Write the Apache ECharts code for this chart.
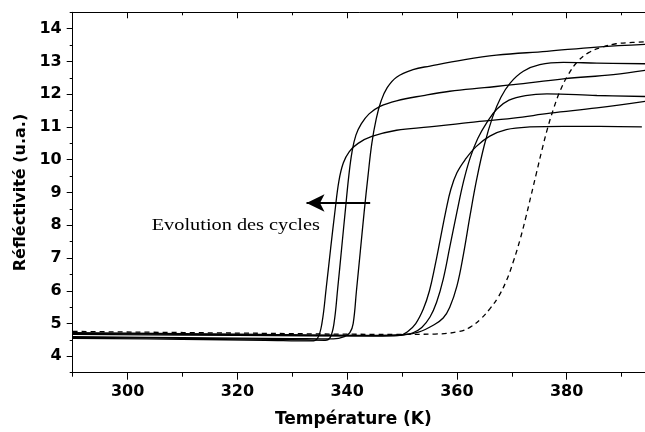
<!DOCTYPE html>
<html>
<head>
<meta charset="utf-8">
<script src="https://cdn.jsdelivr.net/npm/echarts@6/dist/echarts.min.js"></script>
<style>html,body{margin:0;padding:0;background:#fff}#c{width:645px;height:432px}</style>
</head>
<body>
<div id="c"></div>
<script>
// ---- data ----
const xMajorTicks = [300, 320, 340, 360, 380];
const xMinorTicks = [290, 310, 330, 350, 370, 390];
const yMajorTicks = [4, 5, 6, 7, 8, 9, 10, 11, 12, 13, 14];
const yMinorTicks = [3.5, 4.5, 5.5, 6.5, 7.5, 8.5, 9.5, 10.5, 11.5, 12.5, 13.5, 14.5];

const cycleA = [[290,4.55],[310,4.52],[325,4.49],[333.5,4.47],[334.6,4.55],[335.4,5.0],[336.2,6.1],[337.0,7.3],[337.8,8.45],[338.5,9.35],[339.3,9.9],[340.4,10.25],[342.0,10.5],[344.5,10.71],[349.0,10.90],[355.0,11.00],[361.2,11.12],[370.3,11.27],[377.0,11.42],[385.5,11.58],[394.3,11.78]];
const cycleB = [[290,4.58],[310,4.55],[330,4.51],[336.0,4.49],[336.9,4.57],[337.6,5.0],[338.3,6.1],[339.0,7.3],[339.7,8.5],[340.3,9.5],[340.9,10.25],[341.6,10.75],[342.6,11.1],[344.0,11.4],[346.0,11.63],[349.0,11.80],[353.9,11.96],[358.7,12.09],[365.0,12.2],[370.3,12.29],[379.4,12.47],[388.5,12.60],[394.3,12.73]];
const cycleC = [[290,4.60],[310,4.57],[330,4.54],[337.5,4.53],[339.5,4.6],[340.5,4.72],[341.1,5.0],[341.7,6.0],[342.4,7.2],[343.1,8.4],[343.8,9.5],[344.5,10.5],[345.3,11.25],[346.2,11.8],[347.3,12.2],[349.0,12.52],[352.0,12.75],[355.1,12.86],[361.2,13.05],[367.2,13.19],[376.4,13.31],[385.5,13.44],[394.3,13.52]];
const cycleD = [[290,4.70],[320,4.66],[345,4.63],[349.5,4.64],[351.0,4.75],[352.5,5.0],[353.9,5.45],[355.0,6.0],[356.0,6.75],[357.0,7.6],[358.0,8.45],[358.9,9.1],[360.0,9.6],[361.5,10.0],[363.5,10.4],[366.0,10.72],[369.0,10.92],[373.3,11.00],[379.4,11.02],[386.0,11.02],[393.7,11.00]];
const cycleE = [[290,4.67],[320,4.64],[345,4.62],[350.2,4.65],[352.0,4.72],[353.6,4.88],[355.1,5.2],[356.3,5.65],[357.5,6.35],[358.7,7.33],[360.0,8.4],[361.2,9.33],[362.4,10.05],[363.8,10.65],[365.5,11.15],[367.3,11.55],[369.5,11.82],[372.5,11.96],[376.4,12.01],[385.5,11.96],[394.3,11.93]];
const cycleF = [[290,4.72],[320,4.68],[345,4.64],[350.2,4.66],[353.0,4.74],[355.7,4.95],[357.5,5.17],[358.7,5.50],[360.0,6.14],[361.2,7.12],[362.4,8.30],[363.6,9.40],[365.0,10.45],[366.5,11.30],[368.0,11.90],[369.7,12.34],[372.1,12.70],[375.1,12.90],[379.4,12.97],[385.5,12.95],[394.3,12.93]];
const firstCycle = [[290,4.76],[320,4.71],[350,4.67],[356,4.68],[360.5,4.76],[362.5,4.90],[364.4,5.15],[366.0,5.45],[367.5,5.8],[369.0,6.3],[370.3,6.9],[371.5,7.56],[372.5,8.2],[373.5,8.9],[374.5,9.6],[375.5,10.3],[376.5,10.95],[377.5,11.5],[378.8,12.1],[380.3,12.6],[382.0,13.0],[384.0,13.27],[386.4,13.43],[389.0,13.54],[392.0,13.58],[394.3,13.60]];

const arrowFrom = [344.2, 8.68];
const arrowTo = [332.6, 8.68];
const annotation = 'Evolution des cycles';

// ---- chart ----
const sans = 'DejaVu Sans';
const black = '#000';
const solidCurves = [cycleA, cycleB, cycleC, cycleD, cycleE, cycleF];

const series = solidCurves.map((d) => ({
  type: 'line', data: d, showSymbol: false, smooth: 0.4,
  lineStyle: { color: black, width: 1.3 }, silent: true, animation: false, z: 3
}));
series.push({
  type: 'line', data: firstCycle, showSymbol: false, smooth: 0.4,
  lineStyle: { color: black, width: 1.3, type: [5, 4] }, silent: true, animation: false, z: 3
});
series.push({
  type: 'line', data: [], silent: true, animation: false,
  markLine: {
    silent: true, animation: false, symbol: ['none', 'arrow'], symbolSize: [13, 18],
    label: { show: false },
    lineStyle: { color: black, width: 2, type: 'solid' },
    data: [[{ coord: arrowFrom }, { coord: arrowTo }]]
  }
});

const xBase = { type: 'value', min: 290, max: 395, splitLine: { show: false } };
const yBase = { type: 'value', min: 3.5, max: 14.5, splitLine: { show: false } };

const option = {
  backgroundColor: '#fff',
  animation: false,
  grid: { left: 72.7, right: -4, top: 12.3, bottom: 59.3, containLabel: false, outerBoundsMode: 'none' },
  xAxis: [
    Object.assign({}, xBase, {
      position: 'bottom',
      axisLine: { show: true, onZero: false, lineStyle: { color: black, width: 1 } },
      axisTick: { show: true, inside: false, length: 7, customValues: xMajorTicks, lineStyle: { color: black, width: 1 } },
      axisLabel: { show: true, customValues: xMajorTicks, margin: 11, color: black, fontFamily: sans, fontWeight: 'bold', fontSize: 16 },
      name: 'Température (K)', nameLocation: 'middle', nameGap: 38,
      nameTextStyle: { color: black, fontFamily: sans, fontWeight: 'bold', fontSize: 17, padding: [0, 15, 0, 0] }
    }),
    Object.assign({}, xBase, {
      position: 'bottom',
      axisLine: { show: false },
      axisTick: { show: true, inside: false, length: 4, customValues: xMinorTicks, lineStyle: { color: black, width: 1 } },
      axisLabel: { show: false }
    }),
    Object.assign({}, xBase, {
      position: 'top',
      axisLine: { show: true, onZero: false, lineStyle: { color: black, width: 1 } },
      axisTick: { show: true, inside: true, length: 6, customValues: xMajorTicks, lineStyle: { color: black, width: 1 } },
      axisLabel: { show: false }
    }),
    Object.assign({}, xBase, {
      position: 'top',
      axisLine: { show: false },
      axisTick: { show: true, inside: true, length: 3, customValues: xMinorTicks, lineStyle: { color: black, width: 1 } },
      axisLabel: { show: false }
    })
  ],
  yAxis: [
    Object.assign({}, yBase, {
      position: 'left',
      axisLine: { show: true, onZero: false, lineStyle: { color: black, width: 1 } },
      axisTick: { show: true, inside: false, length: 6, customValues: yMajorTicks, lineStyle: { color: black, width: 1 } },
      axisLabel: { show: true, customValues: yMajorTicks, margin: 11, color: black, fontFamily: sans, fontWeight: 'bold', fontSize: 16 },
      name: 'Réfléctivité (u.a.)', nameLocation: 'middle', nameGap: 43,
      nameTextStyle: { color: black, fontFamily: sans, fontWeight: 'bold', fontSize: 16 }
    }),
    Object.assign({}, yBase, {
      position: 'left',
      axisLine: { show: false },
      axisTick: { show: true, inside: false, length: 3, customValues: yMinorTicks, lineStyle: { color: black, width: 1 } },
      axisLabel: { show: false }
    })
  ],
  graphic: [{
    type: 'text', x: 151.7, y: 233.5, scaleX: 1.27, silent: true,
    style: { text: annotation, x: 0, y: 0, align: 'left', verticalAlign: 'bottom', font: '16px "Liberation Serif"', fill: black }
  }],
  series: series
};

const chart = echarts.init(document.getElementById('c'), null, { renderer: 'canvas' });
chart.setOption(option);
</script>
</body>
</html>
